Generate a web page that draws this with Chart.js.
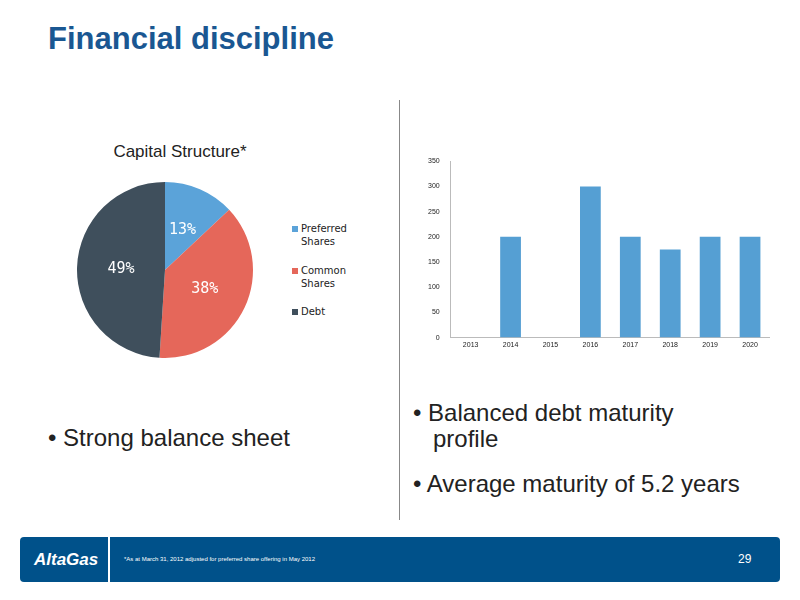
<!DOCTYPE html>
<html><head><meta charset="utf-8">
<script src="https://cdn.jsdelivr.net/npm/chart.js@4"></script>
<style>
body{margin:0;width:800px;height:600px;background:#fff;position:relative;font-family:"Liberation Sans",Arial,sans-serif;overflow:hidden}
.abs{position:absolute}
#title{left:48px;top:21px;font-size:31px;font-weight:bold;color:#1a5792}
#ptitle{left:60px;top:142px;width:240px;text-align:center;font-size:17px;color:#222}
.leg{left:292px;font-family:"DejaVu Sans",sans-serif;font-size:10px;color:#222;line-height:13px}
.sw{display:inline-block;width:6px;height:6px;margin-right:3px}
.bul{font-size:24px;color:#222}
#divider{left:399px;top:100px;width:1px;height:420px;background:#888}
#footer{left:20px;top:537px;width:760px;height:45px;background:#00518a;border-radius:4px}
#sep{left:108px;top:537px;width:2px;height:45px;background:#fff}
</style></head><body>
<div id="title" class="abs">Financial discipline</div>
<div id="ptitle" class="abs">Capital Structure*</div>
<div class="abs" style="left:75px;top:180px;width:180px;height:180px"><canvas id="pie"></canvas></div>
<div class="abs leg" style="top:222px"><span class="sw" style="background:#5ba3d9"></span>Preferred<br><span style="padding-left:9px">Shares</span></div>
<div class="abs leg" style="top:264px"><span class="sw" style="background:#e5675a"></span>Common<br><span style="padding-left:9px">Shares</span></div>
<div class="abs leg" style="top:305px"><span class="sw" style="background:#3f4f5c"></span>Debt</div>
<div id="divider" class="abs"></div>
<div class="abs" style="left:425px;top:154px;width:345px;height:198px"><canvas id="bar"></canvas></div>
<div class="abs bul" style="left:48px;top:424px">• Strong balance sheet</div>
<div class="abs bul" style="left:413px;top:400px;line-height:26px">• Balanced debt maturity<br>&nbsp;&nbsp;&nbsp;profile</div>
<div class="abs bul" style="left:413px;top:470px">• Average maturity of 5.2 years</div>
<div id="footer" class="abs"></div>
<div id="sep" class="abs"></div>
<div class="abs" style="left:34px;top:550px;color:#fff;font-style:italic;font-weight:bold;font-size:17px">AltaGas</div>
<div class="abs" style="left:124px;top:556px;color:#fff;font-size:6px">*As at March 31, 2012 adjusted for preferred share offering in May 2012</div>
<div class="abs" style="left:738px;top:552px;color:#fff;font-size:12px">29</div>
<script>
const pieLabels=["Preferred Shares","Common Shares","Debt"];
const pieValues=[13,38,49];
const pieColors=["#5ba3d9","#e5675a","#3f4f5c"];
const years=["2013","2014","2015","2016","2017","2018","2019","2020"];
const maturities=[0,200,0,300,200,175,200,200];
const yTicks=[0,50,100,150,200,250,300,350];

const pctPlugin={id:'pct',afterDatasetsDraw(c){
 const ctx=c.ctx;const meta=c.getDatasetMeta(0);
 ctx.save();ctx.font='15px "DejaVu Sans Mono",monospace';ctx.fillStyle='#fff';ctx.textAlign='center';ctx.textBaseline='middle';
 meta.data.forEach((a,i)=>{const p=a.tooltipPosition();ctx.fillText(pieValues[i]+'%',p.x,p.y);});
 ctx.restore();}};
new Chart(document.getElementById('pie'),{type:'pie',
 data:{labels:pieLabels,datasets:[{data:pieValues,backgroundColor:pieColors,borderWidth:0}]},
 options:{responsive:true,maintainAspectRatio:false,animation:false,layout:{padding:2},
  plugins:{legend:{display:false},tooltip:{enabled:false}}},plugins:[pctPlugin]});

new Chart(document.getElementById('bar'),{type:'bar',
 data:{labels:years,datasets:[{data:maturities,backgroundColor:"#559fd3",categoryPercentage:1,barPercentage:0.52}]},
 options:{responsive:true,maintainAspectRatio:false,animation:false,
  plugins:{legend:{display:false},tooltip:{enabled:false}},
  scales:{
   x:{grid:{display:false,drawTicks:false},border:{color:'#bbb'},ticks:{font:{size:7},color:'#222'}},
   y:{min:0,max:350,afterBuildTicks(ax){ax.ticks=yTicks.map(v=>({value:v}));},
      grid:{display:false},border:{color:'#bbb'},ticks:{font:{size:7},color:'#222'}}
  }}});
</script>
</body></html>
